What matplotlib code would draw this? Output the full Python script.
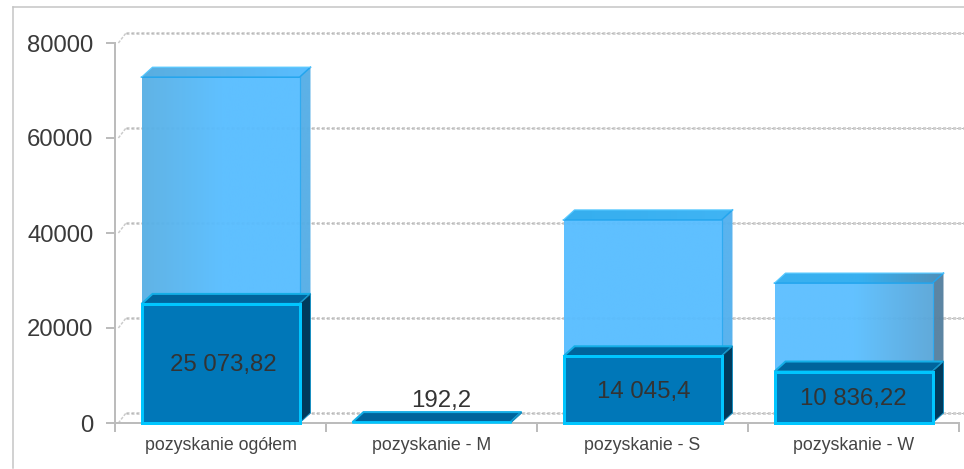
import numpy as np
import matplotlib
matplotlib.use("Agg")
import matplotlib.pyplot as plt
from matplotlib.colors import LinearSegmentedColormap
from matplotlib.patches import Polygon
from matplotlib.lines import Line2D

categories = ["pozyskanie ogółem", "pozyskanie - M", "pozyskanie - S", "pozyskanie - W"]
back_values = [72800, 0, 42750, 29450]
front_values = [25073.82, 192.2, 14045.4, 10836.22]
front_labels = ["25 073,82", "192,2", "14 045,4", "10 836,22"]
y_ticks = [0, 20000, 40000, 60000, 80000]
label_shift_px = [3, 10, 1, 0]

plt.rcParams["font.family"] = ["Liberation Sans", "DejaVu Sans"]
W, H = 964, 469
fig = plt.figure(figsize=(W / 100, H / 100), dpi=100, facecolor="white")
ax = fig.add_axes([115 / W, (H - 423) / H, (W - 115) / W, 380 / H])
ax.set_xlim(0, (W - 115) / 211)
ax.set_ylim(0, 80000)
ax.set_facecolor("none")
PX = 0.72
DX, DY = 11 / 211, 10 / 380 * 80000
BW = 158 / 211
GRAY = "#bcbcbc"

for s in ("top", "right"):
    ax.spines[s].set_visible(False)
for s in ("left", "bottom"):
    ax.spines[s].set_color(GRAY)
    ax.spines[s].set_linewidth(2 * PX)
ax.spines["bottom"].set_bounds(0, 4)
ax.set_yticks(y_ticks)
ax.set_xticks([0, 1, 2, 3, 4])
ax.set_xticklabels([])
ax.tick_params(axis="y", length=6.5, width=2 * PX, color=GRAY, labelsize=17.2, labelcolor="#3a3a3a", pad=9)
ax.tick_params(axis="x", length=6.5, width=2 * PX, color=GRAY)
for i, c in enumerate(categories):
    ax.annotate(c, (i + 0.5, 0), xytext=(0, -22.5 * PX), textcoords="offset points",
                ha="center", va="center", fontsize=12.75, color="#444444", annotation_clip=False)

# back wall grid
for v in y_ticks:
    ax.plot([0.016, DX], [v, v + DY], color="#cccccc", lw=1.5 * PX, ls=(0, (2, 1)), zorder=1, clip_on=False)
    ax.plot([DX, 5], [v + DY, v + DY], color="#d2d2d2", lw=3 * PX, ls=(0, (1.0, 0.67)), zorder=1, clip_on=False)
    ax.plot([DX, 5], [v + DY, v + DY], color="#b8b8b8", lw=1 * PX, ls=(0, (2, 3)), zorder=1.1, clip_on=False)

def grad_poly(pts, colors, z, alpha=1.0):
    pts = np.array(pts)
    cmap = LinearSegmentedColormap.from_list("g", colors)
    x0, x1, y0, y1 = pts[:, 0].min(), pts[:, 0].max(), pts[:, 1].min(), pts[:, 1].max()
    im = ax.imshow(np.linspace(0, 1, 256)[None, :], extent=[x0, x1, y0, y1], cmap=cmap, aspect="auto",
                   zorder=z, alpha=alpha, clip_on=True, origin="lower", interpolation="bilinear")
    clip = Polygon(pts, transform=ax.transData, fc="none", ec="none")
    ax.add_patch(clip)
    im.set_clip_path(clip)

# colours per bar: (front, top, side)
back_styles = [
    (["#5ab0e4", "#58bdff", "#58bdff"], ["#5aaee0", "#58bdff"], ["#55aee6", "#55aee6"]),
    None,
    (["#58bdff", "#58bdff"], ["#35aeee", "#40b4f4"], ["#52b0ee", "#52b0ee"]),
    (["#5cbfff", "#5cbfff", "#5aa6d8"], ["#38b0f0", "#38b0f0", "#4f8fb8"], ["#55809f", "#55809f"]),
]

for i, (b, f) in enumerate(zip(back_values, front_values)):
    x0 = i + 0.5 - BW / 2
    x1 = x0 + BW
    if b > 0:
        st = back_styles[i]
        grad_poly([(x0, 0), (x1, 0), (x1, b), (x0, b)], st[0], 3, 0.96)
        grad_poly([(x0, b), (x1, b), (x1 + DX, b + DY), (x0 + DX, b + DY)], st[1], 3)
        grad_poly([(x1, 0), (x1 + DX, DY), (x1 + DX, b + DY), (x1, b)], st[2], 3, 0.96)
        ax.add_line(Line2D([x0, x1, x1 + DX], [b, b, b + DY], color="#22a5ee", lw=1.5 * PX, zorder=3.5))
        ax.add_line(Line2D([x0, x0 + DX, x1 + DX], [b, b + DY, b + DY], color="#55c8ff", lw=1.2 * PX, zorder=3.5))
        ax.add_line(Line2D([x1, x1], [0, b], color="#30aaf0", lw=1.2 * PX, zorder=3.5))
    # front solid bar
    ax.add_patch(Polygon([(x0, f), (x1, f), (x1 + DX, f + DY), (x0 + DX, f + DY)], closed=True,
                         fc="#00649c", ec="#14aee6", lw=2 * PX, zorder=4))
    ax.add_patch(Polygon([(x1, 0), (x1 + DX, DY), (x1 + DX, f + DY), (x1, f)], closed=True,
                         fc="#003a5c", ec="#1a8fc0", lw=1 * PX, zorder=4))
    big = f > 5000
    ax.add_patch(Polygon([(x0, 0), (x1, 0), (x1, f), (x0, f)], closed=True,
                         fc="#0077b8", ec="#00c6ff", lw=(3 if big else 1.5) * PX, zorder=5,
                         joinstyle="miter", clip_on=False))
    dx_pt = label_shift_px[i] * PX
    if big:
        ax.annotate(front_labels[i], (i + 0.5, f / 2), xytext=(dx_pt, -2 * PX), textcoords="offset points",
                    ha="center", va="center", fontsize=17.3, color="#333333", zorder=6)
    else:
        ax.annotate(front_labels[i], (i + 0.5, f), xytext=(dx_pt, 21 * PX), textcoords="offset points",
                    ha="center", va="center", fontsize=17.3, color="#333333", zorder=6)

ax.set_xlim(0, (W - 115) / 211)
ax.set_ylim(0, 80000)
# outer frame
fig.add_artist(Line2D([12.5 / W, 1], [1 - 7.5 / H] * 2, color="#c4c4c4", lw=1.5 * PX, transform=fig.transFigure))
fig.add_artist(Line2D([12.5 / W, 12.5 / W], [1 - 7.5 / H, 1 / H], color="#c4c4c4", lw=1.5 * PX, transform=fig.transFigure))
fig.savefig("out.png", dpi=100, facecolor="white")
